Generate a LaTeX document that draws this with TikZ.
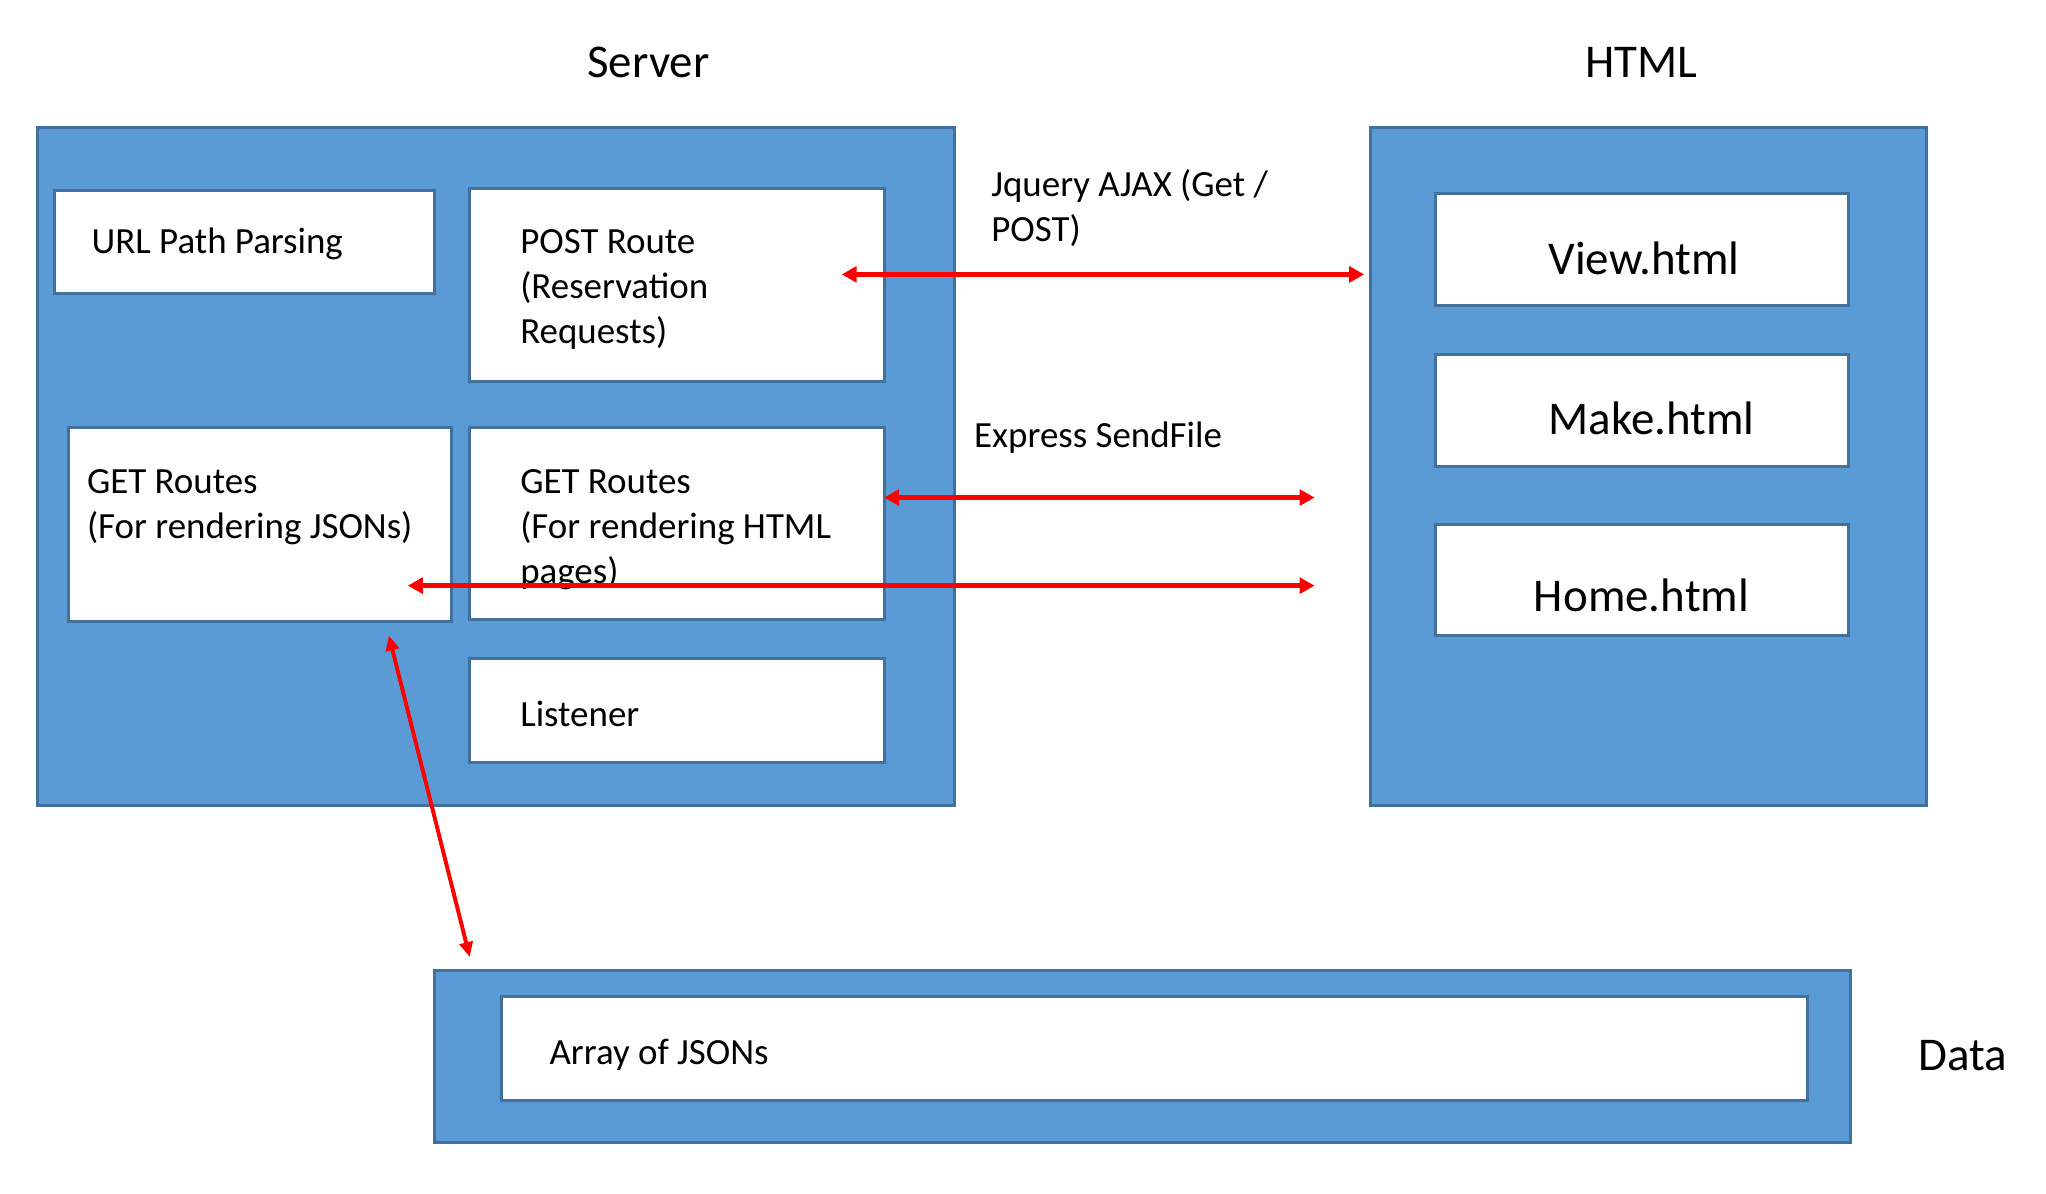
\documentclass[tikz,border=0pt]{standalone}
\usepackage{fontspec}
\setmainfont{Carlito}
\usetikzlibrary{arrows.meta}
\definecolor{boxblue}{HTML}{5B9BD5}
\definecolor{boxedge}{HTML}{41719C}
\definecolor{arrred}{HTML}{FF0000}
\begin{document}
\begin{tikzpicture}[x=1pt,y=-1pt,
  panel/.style={draw=boxedge, fill=boxblue, line width=2.3pt, inner sep=0pt, outer sep=0pt, anchor=north west},
  card/.style={draw=boxedge, fill=white, line width=2.3pt, inner sep=0pt, outer sep=0pt, anchor=north west},
  small/.style={font=\fontsize{28.3}{34.5}\selectfont, inner sep=0pt, anchor=base west},
  big/.style={font=\fontsize{36}{43}\selectfont, inner sep=0pt, anchor=base},
  link/.style={draw=arrred, line width=3.8pt, {Triangle[length=11.5pt,width=12pt]}-{Triangle[length=11.5pt,width=12pt]}},
  thinlink/.style={draw=arrred, line width=3pt, {Triangle[length=11.5pt,width=10pt]}-{Triangle[length=11.5pt,width=10pt]}},
]
\useasboundingbox (0,0) rectangle (1568,915);

% panels
\node[panel, minimum width=702.4pt, minimum height=519pt] (server) at (29,98) {};
\node[panel, minimum width=426.5pt, minimum height=519pt] (html) at (1050,98) {};
\node[panel, minimum width=1085pt, minimum height=131.3pt] (data) at (333,744) {};

% server cards
\node[card, minimum width=291.5pt, minimum height=79.2pt] (url) at (41.5,145.8) {};
\node[card, minimum width=317.5pt, minimum height=148.1pt] (post) at (360,144.3) {};
\node[card, minimum width=293.5pt, minimum height=148.7pt] (getjson) at (52.5,327.3) {};
\node[card, minimum width=317.5pt, minimum height=147.7pt] (gethtml) at (360,327.3) {};
\node[card, minimum width=317.5pt, minimum height=79.5pt] (listener) at (360,505) {};

% html cards
\node[card, minimum width=317pt, minimum height=86pt] (view) at (1100,148) {};
\node[card, minimum width=317pt, minimum height=85.6pt] (make) at (1100,271.6) {};
\node[card, minimum width=317pt, minimum height=85pt] (home) at (1100,401.8) {};

% data card
\node[card, minimum width=1001pt, minimum height=79.8pt] (array) at (384,763.8) {};

% titles
\node[big] (tserver) at (497,59.5) {Server};
\node[big] (thtml) at (1258,59.5) {HTML};
\node[big, anchor=base west] (tdata) at (1470,820.4) {Data};

% html card texts
\node[big] (tview) at (1260,210.6) {View.html};
\node[big] (tmake) at (1265.7,332.9) {Make.html};
\node[big] (thome) at (1258,469) {Home.html};

% server card texts
\node[small] (turl) at (70,194.2) {URL Path Parsing};
\node[small] (tpost1) at (398.5,194.2) {POST Route};
\node[small] (tpost2) at (398.5,228.7) {(Reservation};
\node[small] (tpost3) at (398.5,263.2) {Requests)};
\node[small] (tgj1) at (66.5,378.2) {GET Routes};
\node[small] (tgj2) at (66.5,412.7) {(For rendering JSONs)};
\node[small] (tgh1) at (398.5,378.2) {GET Routes};
\node[small] (tgh2) at (398.5,412.7) {(For rendering HTML};
\node[small] (tgh3) at (398.5,447.2) {pages)};
\node[small] (tlist) at (398.5,556.4) {Listener};
\node[small] (tarray) at (421,815.5) {Array of JSONs};

% connector labels
\node[small] (lajax1) at (759.5,150.5) {Jquery AJAX (Get /};
\node[small] (lajax2) at (759.5,185) {POST)};
\node[small] (lsend) at (746.4,343) {Express SendFile};

% connector ends
\coordinate (a1l) at (645,210.3);
\coordinate (a1r) at (1045.5,210.3);
\coordinate (a2l) at (677.5,381.3);
\coordinate (a2r) at (1007.5,381.3);
\coordinate (a3l) at (312.5,448.8);
\coordinate (a3r) at (1007.5,448.8);
\coordinate (a4t) at (298,487);
\coordinate (a4b) at (360,733.5);

\draw[link] (a1l) -- (a1r);
\draw[link] (a2l) -- (a2r);
\draw[link] (a3l) -- (a3r);
\draw[thinlink] (a4t) -- (a4b);
\end{tikzpicture}
\end{document}
